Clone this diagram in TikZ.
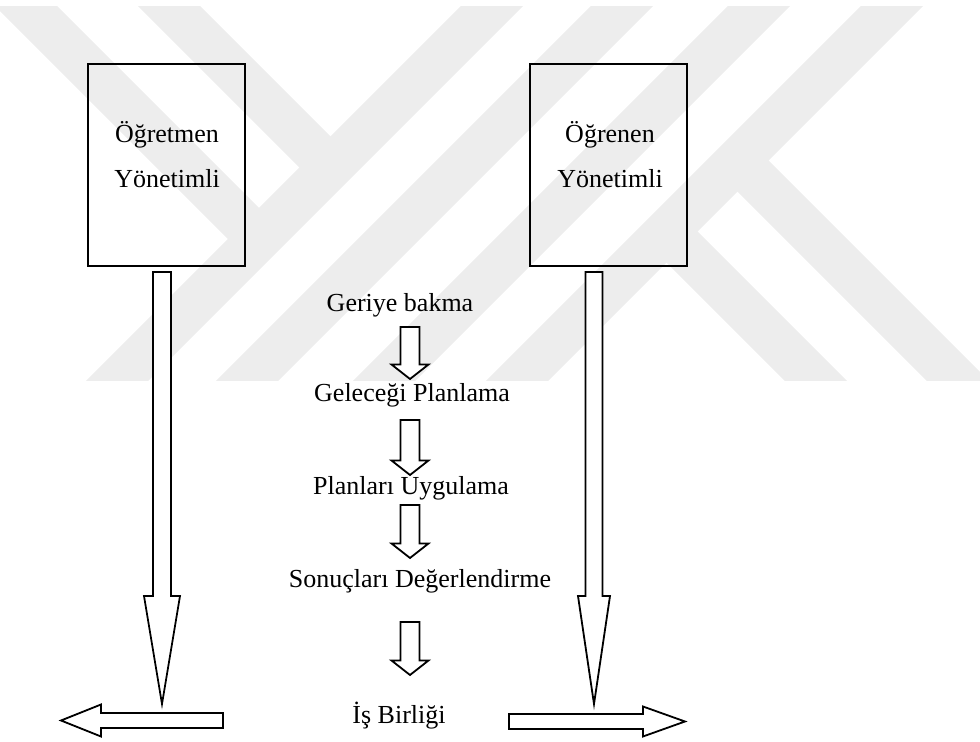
\documentclass[tikz,border=0pt]{standalone}
\usepackage{fontspec}
\setmainfont{Liberation Serif}
\usetikzlibrary{positioning}
\usetikzlibrary{calc}

\tikzset{
  panel/.style={draw, line width=1.1pt, minimum width=78.5pt, minimum height=101pt, inner sep=0pt},
  caption/.style={anchor=base, inner sep=0pt, align=center, font=\fontsize{13}{22.5}\selectfont},
  blockline/.style={draw, fill=white, line width=0.9pt, line join=miter},
  wmark/.style={line width=22pt, black!7}
}

% hollow block arrow: #1 tail, #2 tip, #3 half shaft, #4 half head, #5 head length
\newcommand{\blockarrow}[5]{%
  \coordinate (ba-n) at ($(#2)!#5!(#1)$);
  \draw[blockline] ($(#1)!#3!90:(#2)$) -- ($(ba-n)!#3!90:(#2)$) -- ($(ba-n)!#4!90:(#2)$)
    -- (#2) -- ($(ba-n)!#4!-90:(#2)$) -- ($(ba-n)!#3!-90:(#2)$) -- ($(#1)!#3!-90:(#2)$) -- cycle;
}

\begin{document}
\begin{tikzpicture}[x=0.5pt, y=-0.5pt]
  \useasboundingbox (0,0) rectangle (980,742);

  % watermark in the background
  \begin{scope}
    \clip (0,7) rectangle (980,381);
    \foreach \t in {491,621,758,891}
      \draw[wmark] (\t+20,-13) -- (\t-394,401);
    \draw[wmark] (7,-13) -- (259,239);
    \draw[wmark] (150,-13) -- (330.5,167.5);
    \draw[wmark] (737.5,160.5) -- (978,401);
    \draw[wmark] (666.5,231.5) -- (836,401);
  \end{scope}

  % the two boxes
  \node[panel] (teacher) at (166.5,165) {};
  \node[panel] (learner) at (608.5,165) {};
  \node[caption] (teachertext) at (167,188) {Öğretmen\\Yönetimli};
  \node[caption] (learnertext) at (610,188) {Öğrenen\\Yönetimli};

  % the steps in the middle
  \node[caption] (look) at (400,312) {Geriye bakma};
  \node[caption] (plan) at (412,402) {Geleceği Planlama};
  \node[caption] (apply) at (411,495) {Planları Uygulama};
  \node[caption] (judge) at (420,588) {Sonuçları Değerlendirme};
  \node[caption] (coop) at (399,723) {İş Birliği};

  \coordinate (mid) at (410,0);
  \foreach \from/\to/\ga/\gb in {look/plan/15/-23, plan/apply/18/-20, apply/judge/10/-30, judge/coop/34/-48}
  {
    \coordinate (s) at ($(mid |- \from.base)+(0,\ga)$);
    \coordinate (e) at ($(mid |- \to.base)+(0,\gb)$);
    \blockarrow{s}{e}{4.75pt}{9.25pt}{7.25pt}
  }

  % long arrows from the boxes
  \coordinate (teachertail) at ($(teacher.south)+(-4.5,5)$);
  \coordinate (learnertail) at ($(learner.south)+(-14.5,5)$);
  \coordinate (teachertip) at (teachertail |- 0,704);
  \coordinate (learnertip) at (learnertail |- 0,704);
  \blockarrow{teachertail}{teachertip}{4.5pt}{9pt}{54pt}
  \blockarrow{learnertail}{learnertip}{4.25pt}{8pt}{54pt}

  % sideways arrows at the bottom
  \coordinate (lefttail) at (223,720.5);
  \coordinate (lefttip) at (61,720.5);
  \coordinate (righttail) at (509,721.5);
  \coordinate (righttip) at (685,721.5);
  \blockarrow{lefttail}{lefttip}{3.75pt}{8pt}{20pt}
  \blockarrow{righttail}{righttip}{3.75pt}{7.5pt}{21pt}
\end{tikzpicture}
\end{document}
